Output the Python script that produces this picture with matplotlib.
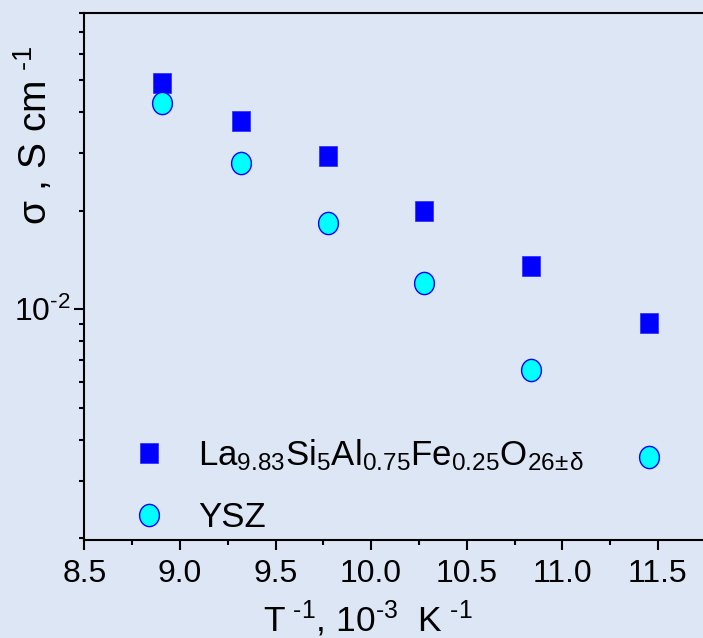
import numpy as np
import matplotlib
matplotlib.use("Agg")
import matplotlib.pyplot as plt
from matplotlib.path import Path
from matplotlib.transforms import Affine2D
from matplotlib.lines import Line2D
from matplotlib.ticker import MultipleLocator, FormatStrFormatter, LogLocator, NullFormatter, FuncFormatter

plt.rcParams['font.family'] = ['Liberation Sans', 'DejaVu Sans']
plt.rcParams['mathtext.default'] = 'regular'

HY = '\u2010'  # short hyphen, the original uses it instead of a minus

# 1000/T values, 10^-3 K^-1
inv_T = [8.905, 9.320, 9.775, 10.277, 10.834, 11.455]
# conductivity, S/cm
sigma_lasi = [0.0490, 0.0376, 0.0294, 0.0200, 0.0136, 0.00908]
sigma_ysz = [0.0425, 0.0280, 0.0183, 0.0120, 0.00651, 0.00355]

label_lasi = r'La$_{9.83}$Si$_{5}$Al$_{0.75}$Fe$_{0.25}$O$_{26\!\pm\!\delta}$'
label_ysz = 'YSZ'

bg = '#dde6f4'

# slightly stretched markers, like in the original picture
sq = Path([(-0.45, -0.5), (0.45, -0.5), (0.45, 0.5), (-0.45, 0.5), (-0.45, -0.5)],
          [Path.MOVETO, Path.LINETO, Path.LINETO, Path.LINETO, Path.CLOSEPOLY])
ell = Path.unit_circle().transformed(Affine2D().scale(0.89, 1.0))

fig = plt.figure(figsize=(7.03, 6.38), dpi=100, facecolor=bg)
W, H = 703, 638
left, right, top, bottom = 84.3, 703, 12.7, 540
ax = fig.add_axes([left / W, 1 - bottom / H, (right - left) / W, (bottom - top) / H])
ax.set_facecolor(bg)

ax.plot(inv_T, sigma_lasi, linestyle='none', marker=sq, markersize=15,
        markerfacecolor='#0000ff', markeredgecolor='#2a2aff', markeredgewidth=0.5)
ax.plot(inv_T, sigma_ysz, linestyle='none', marker=ell, markersize=16,
        markerfacecolor='#00ffff', markeredgecolor='#0000ff', markeredgewidth=1.0)

ax.set_yscale('log')
ax.set_xlim(8.5, 8.5 + (right - left) / 191.2)
ax.set_ylim(1.976e-3, 8.04e-2)

ax.xaxis.set_major_locator(MultipleLocator(0.5))
ax.xaxis.set_minor_locator(MultipleLocator(0.25))
ax.xaxis.set_major_formatter(FormatStrFormatter('%.1f'))
ax.yaxis.set_major_locator(LogLocator(base=10))
ax.yaxis.set_minor_locator(LogLocator(base=10, subs=np.arange(2, 10)))
ax.yaxis.set_major_formatter(FuncFormatter(
    lambda v, pos: '10$^{' + HY + '%d}$' % abs(round(np.log10(v)))))
ax.yaxis.set_minor_formatter(NullFormatter())

for s in ['left', 'bottom', 'top']:
    ax.spines[s].set_linewidth(1.5)
ax.spines['right'].set_visible(False)
ax.tick_params(which='major', direction='out', length=7, width=1.5, labelsize=23, pad=7)
ax.tick_params(which='minor', direction='out', length=3.5, width=1.5)
ax.tick_params(axis='y', which='major', pad=3)

fig.text(47 / W, 1 - 135 / H, r'σ , S cm$^{\ ' + HY + '1}$', rotation=90,
         rotation_mode='anchor', ha='center', va='baseline', fontsize=28)
fig.text(368 / W, 0.011, r'T$^{\ ' + HY + r'1}$, 10$^{' + HY + r'3}$  K$^{\ ' + HY + '1}$',
         ha='center', va='baseline', fontsize=25.5)

handles = [
    Line2D([], [], linestyle='none', marker=sq, markersize=15,
           markerfacecolor='#0000ff', markeredgecolor='#2a2aff', markeredgewidth=0.5),
    Line2D([], [], linestyle='none', marker=ell, markersize=16,
           markerfacecolor='#00ffff', markeredgecolor='#0000ff', markeredgewidth=1.0),
]
ax.legend(handles, [label_lasi, label_ysz], loc='lower left',
          bbox_to_anchor=((132 - left) / (right - left), 0.011),
          frameon=False, fontsize=25, handlelength=1.0, handletextpad=0.9,
          borderpad=0, borderaxespad=0, labelspacing=0.82)

fig.savefig('out.png', dpi=100, facecolor=bg)
